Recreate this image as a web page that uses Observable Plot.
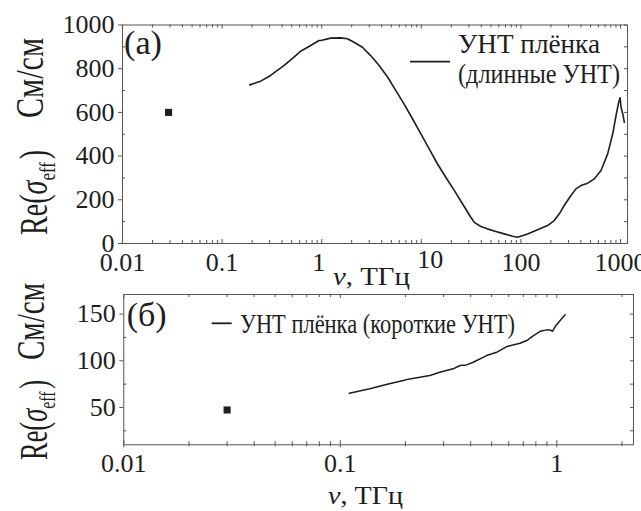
<!DOCTYPE html>
<html><head><meta charset="utf-8">
<script src="https://cdn.jsdelivr.net/npm/d3@7"></script>
<script src="https://cdn.jsdelivr.net/npm/@observablehq/plot@0.6"></script>
<style>
body{margin:0;background:#fff;}
#wrap{position:relative;width:641px;height:511px;overflow:hidden;background:#fff;}
#wrap svg{position:absolute;left:0;overflow:visible;}
#wrap svg, #wrap svg text{font-family:"Liberation Serif","DejaVu Serif",serif !important;}
</style></head><body><div id="wrap"></div>
<script>
// ---- data: (a) long CNT film ----
const freqLong = [0.19,0.244,0.307,0.359,0.42,0.527,0.615,0.775,0.94,0.98,1.23,1.55,1.81,2.11,2.56,3.1,3.77,4.6,5.55,6.7,8.15,9.9,12,14.5,17.6,21.4,25.9,31.4,34,39.6,46,56,68,82.4,92.5,116.6,147,185,216,243,272,318,357,401,468,546,637,743,835,902,959,990,1012,1052,1092];
const sigmaLong = [726,743,769,792,815,853,880,906,929,929,940,941,937,921,898,860,815,761,700,639,571,502,433,365,303,243,182,120,97,78,67,55,44,33.5,29,44,62.6,82,105,136,174,220,250,265,276,296,334,410,502,586,647,667,624,594,555];
// ---- data: (б) short CNT film ----
const freqShort = [0.11,0.137,0.163,0.195,0.209,0.233,0.259,0.288,0.332,0.357,0.383,0.411,0.474,0.527,0.587,0.676,0.726,0.78,0.838,0.899,0.931,0.955,0.982,1.036,1.092];
const sigmaShort = [65.2,70,74.6,78.8,80.6,82.4,84.2,87.7,91.4,94.9,95.6,98.4,105.6,109.1,115.2,118.8,121.7,127,131.6,133.1,133.1,131.6,136.7,143.1,149.2];
// ---- DC points ----
const dcFreqA = [0.029], dcSigmaA = [600];
const dcFreqB = [0.030], dcSigmaB = [47.3];
// ---- ticks / labels ----
const xTicksA = [0.01,0.1,100,1000];
const xTickOneA = [1], xTickTenA = [10];
const yTicksA = [0,200,400,600,800,1000];
const yMinorA = [100,300,500,700,900];
const xTicksB = [0.01,0.1,1];
const yTicksB = [50,100,150];
const yMinorB = [25,75,125];
const legendA = ["УНТ плёнка","(длинные УНТ)"];
const legendB = "УНТ плёнка (короткие УНТ)";
const panelA = "(a)", panelB = "(б)";
const unitLabel = "См/см";
const xLabelTail = ", ТГц";

const FONT = '"Liberation Serif","DejaVu Serif",serif';
const INK = "#1e1e1e", AX = "#555";

function logTicks(lo, hi, minor){
  const out=[];
  for(let e=-3;e<=4;e++) for(let m=1;m<10;m++){
    if((m===1)===minor) continue;
    const v=+(m*Math.pow(10,e)).toPrecision(3);
    if(v>=lo*0.999 && v<=hi*1.001) out.push(v);
  }
  return out;
}

const longData = freqLong.map((f,i)=>({f, s:sigmaLong[i]}));
const shortData = freqShort.map((f,i)=>({f, s:sigmaShort[i]}));
const dcA = dcFreqA.map((f,i)=>({f, s:dcSigmaA[i]}));
const dcB = dcFreqB.map((f,i)=>({f, s:dcSigmaB[i]}));
const xAxisOpts = {anchor:"bottom", tickSize:0, tickPadding:9, fontSize:26, fill:INK, label:null, tickFormat:d=>String(d)};

// ---------- panel (a) ----------
const A = {w:641,h:290,ml:122,mr:14,mt:24.5,mb:47};
A.fw = A.w-A.ml-A.mr; A.fh = A.h-A.mt-A.mb;
const xDomA=[0.01,1175];
const svgA = Plot.plot({
  width:A.w, height:A.h, marginLeft:A.ml, marginRight:A.mr, marginTop:A.mt, marginBottom:A.mb,
  x:{type:"log", domain:xDomA, label:null},
  y:{domain:[0,1000], label:null},
  style:{fontFamily:FONT, fontSize:"26px", color:INK, background:"transparent", overflow:"visible"},
  marks:[
    Plot.frame({stroke:AX, strokeWidth:1}),
    Plot.tickX(logTicks(xDomA[0],xDomA[1],true), {x:d=>d, stroke:AX, insetTop:A.fh-3}),
    Plot.tickX(logTicks(xDomA[0],xDomA[1],false), {x:d=>d, stroke:AX, insetTop:A.fh-4}),
    Plot.tickX(logTicks(xDomA[0],xDomA[1],true), {x:d=>d, stroke:AX, insetBottom:A.fh-3}),
    Plot.tickX(logTicks(xDomA[0],xDomA[1],false), {x:d=>d, stroke:AX, insetBottom:A.fh-4}),
    Plot.tickY(yMinorA, {y:d=>d, stroke:AX, insetRight:A.fw-3}),
    Plot.tickY(yMinorA.concat(yTicksA), {y:d=>d, stroke:AX, insetLeft:A.fw-3}),
    Plot.axisY(yTicksA, {anchor:"left", tickSize:4, tickPadding:4, fontSize:26, stroke:AX, fill:INK, label:null, tickFormat:d=>String(d)}),
    Plot.axisX(xTicksA, xAxisOpts),
    Plot.axisX(xTickOneA, {...xAxisOpts, dx:-3}),
    Plot.axisX(xTickTenA, {...xAxisOpts, dx:9, dy:-3}),
    Plot.line(longData, {x:"f", y:"s", stroke:INK, strokeWidth:1.6}),
    Plot.dot(dcA, {x:"f", y:"s", symbol:"square", r:4, fill:INK, stroke:null})
  ]
});
svgA.style.top="0px";

// ---------- panel (б) ----------
const B = {w:641,h:231,ml:123.3,mr:8,mt:14,mb:66.7};
B.fw = B.w-B.ml-B.mr; B.fh = B.h-B.mt-B.mb;
const xDomB=[0.01,2.26];
const svgB = Plot.plot({
  width:B.w, height:B.h, marginLeft:B.ml, marginRight:B.mr, marginTop:B.mt, marginBottom:B.mb,
  x:{type:"log", domain:xDomB, label:null},
  y:{domain:[10,171], label:null},
  style:{fontFamily:FONT, fontSize:"26px", color:INK, background:"transparent", overflow:"visible"},
  marks:[
    Plot.frame({stroke:AX, strokeWidth:1}),
    Plot.tickX(logTicks(xDomB[0],xDomB[1],true), {x:d=>d, stroke:AX, insetTop:B.fh-3, insetBottom:-2}),
    Plot.tickX(logTicks(xDomB[0],xDomB[1],false), {x:d=>d, stroke:AX, insetTop:B.fh-4, insetBottom:-3}),
    Plot.tickX(logTicks(xDomB[0],xDomB[1],true), {x:d=>d, stroke:AX, insetBottom:B.fh-3}),
    Plot.tickX(logTicks(xDomB[0],xDomB[1],false), {x:d=>d, stroke:AX, insetBottom:B.fh-4}),
    Plot.tickY(yMinorB, {y:d=>d, stroke:AX, insetRight:B.fw-3}),
    Plot.tickY(yMinorB.concat(yTicksB), {y:d=>d, stroke:AX, insetLeft:B.fw-3}),
    Plot.axisY(yTicksB, {anchor:"left", tickSize:4, tickPadding:4, fontSize:26, stroke:AX, fill:INK, label:null, tickFormat:d=>String(d)}),
    Plot.axisX(xTicksB, xAxisOpts),
    Plot.line(shortData, {x:"f", y:"s", stroke:INK, strokeWidth:1.5}),
    Plot.dot(dcB, {x:"f", y:"s", symbol:"square", r:4, fill:INK, stroke:null})
  ]
});
svgB.style.top="280px";

const wrap = document.getElementById("wrap");
wrap.appendChild(svgA);
wrap.appendChild(svgB);

// ---------- annotations ----------
function txt(svg, s, x, y, size, opts={}){
  const t = d3.select(svg).append("text")
    .attr("x",x).attr("y",y).attr("font-size",size).attr("text-anchor","start")
    .attr("fill",INK).text(s);
  if(opts.len) t.attr("textLength",opts.len).attr("lengthAdjust","spacingAndGlyphs");
  return t;
}
function yLabel(svg, reY, reLen, reX, unitY, unitLen, unitX){
  const g = d3.select(svg);
  const t = g.append("text").attr("transform",`translate(${reX},${reY}) rotate(-90)`)
    .attr("text-anchor","start").attr("font-size",40).attr("fill",INK)
    .attr("textLength",reLen).attr("lengthAdjust","spacingAndGlyphs");
  t.append("tspan").text("Re(");
  t.append("tspan").attr("font-style","italic").text("σ");
  t.append("tspan").attr("font-size",24).attr("dy",8).text("eff");
  t.append("tspan").attr("dy",-8).attr("dx",4).text(")");
  g.append("text").attr("transform",`translate(${unitX},${unitY}) rotate(-90)`)
    .attr("text-anchor","start").attr("font-size",40).attr("fill",INK)
    .attr("textLength",unitLen).attr("lengthAdjust","spacingAndGlyphs").text(unitLabel);
}
function xLabel(svg, x, y, len){
  const t = d3.select(svg).append("text").attr("x",x).attr("y",y)
    .attr("text-anchor","start").attr("font-size",26).attr("fill",INK)
    .attr("textLength",len).attr("lengthAdjust","spacingAndGlyphs");
  t.append("tspan").attr("font-style","italic").text("ν");
  t.append("tspan").text(xLabelTail);
}

// panel (a)
txt(svgA, panelA, 124, 54, 34, {len:38});
d3.select(svgA).append("line").attr("x1",410).attr("x2",450).attr("y1",61.7).attr("y2",61.7)
  .attr("stroke",INK).attr("stroke-width",1.8);
txt(svgA, legendA[0], 458, 53, 28, {len:142});
txt(svgA, legendA[1], 458, 83, 28, {len:162});
yLabel(svgA, 235, 85, 47, 118, 80, 43);
xLabel(svgA, 333, 285, 77);

// panel (б)
txt(svgB, panelB, 126.7, 46, 34, {len:40});
d3.select(svgB).append("line").attr("x1",211.7).attr("x2",231.7).attr("y1",43.3).attr("y2",43.3)
  .attr("stroke",INK).attr("stroke-width",1.8);
txt(svgB, legendB, 240, 53, 27, {len:275});
yLabel(svgB, 180, 80, 47, 80, 77, 44);
xLabel(svgB, 328, 224, 75);
</script></body></html>
